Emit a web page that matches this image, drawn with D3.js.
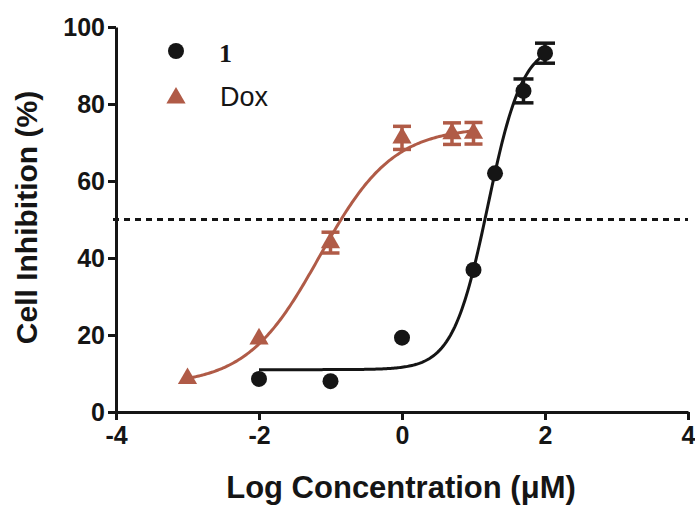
<!DOCTYPE html>
<html>
<head>
<meta charset="utf-8">
<script src="https://cdn.jsdelivr.net/npm/d3@7"></script>
<style>
  body { margin: 0; background: #fff; }
  svg { display: block; }
  .tick text { font-family: "Liberation Sans", Arial, sans-serif; font-weight: bold; }
</style>
</head>
<body>
<svg id="chart" width="695" height="506"></svg>
<script>
// compound 1 (log uM, % inhibition, SEM)
const cmpdX = [-2, -1, 0, 1, 1.301, 1.699, 2];
const cmpdY = [8.6, 8.0, 19.3, 36.9, 62.0, 83.4, 93.2];
const cmpdErr = [0, 0, 0, 0, 0, 3.1, 2.6];

// doxorubicin
const doxX = [-3, -2, -1, 0, 0.699, 1];
const doxY = [8.7, 19.0, 44.0, 71.2, 72.3, 72.4];
const doxErr = [0, 0, 2.7, 3.0, 2.8, 2.8];

// 4PL fit params: bottom, top, logIC50, hill, x range
const cmpdFit = [11, 96, 1.2, 1.78, -2, 2];
const doxFit = [7, 74, -1.15, 0.85, -3, 1];

const xTicks = [-4, -2, 0, 2, 4];
const yTicks = [0, 20, 40, 60, 80, 100];
const legendNames = ["1", "Dox"];

// Sets up sizes
let margin = {top: 27, left: 116, right: 7, bottom: 94},
    width = 695 - margin.left - margin.right,
    height = 506 - margin.top - margin.bottom;

let black = "#151515", brown = "#b05b47";

let svg = d3.select("#chart");
let g = svg.append("g")
    .attr("transform", "translate(" + margin.left + "," + margin.top + ")");

let x = d3.scaleLinear().domain([-4, 4]).range([0, width]);
let y = d3.scaleLinear().domain([0, 100]).range([height, 0]);

// axes
let xAxis = g.append("g")
    .attr("transform", "translate(0," + height + ")")
    .call(d3.axisBottom(x).tickValues(xTicks).tickSize(8).tickSizeOuter(0).tickPadding(6));
let yAxis = g.append("g")
    .call(d3.axisLeft(y).tickValues(yTicks).tickSize(8).tickSizeOuter(0).tickPadding(3));

[xAxis, yAxis].forEach(function(a) {
    a.selectAll("path, line").attr("stroke", black).attr("stroke-width", 3);
    a.selectAll("text").attr("fill", black).style("font-size", "25px");
});
xAxis.selectAll("text").text(function(d) { return d < 0 ? "-" + Math.abs(d) : d; });

// 50% dashed line
g.append("line")
    .attr("x1", x(-4) - 3).attr("x2", x(4))
    .attr("y1", y(50)).attr("y2", y(50))
    .attr("stroke", black)
    .attr("stroke-width", 2.8)
    .attr("stroke-dasharray", "6,5");

// fitted curves
function curvePoints(p) {
    let pts = [];
    for (let i = 0; i <= 200; i++) {
        let lx = p[4] + (p[5] - p[4]) * i / 200;
        pts.push([lx, p[0] + (p[1] - p[0]) / (1 + Math.pow(10, (p[2] - lx) * p[3]))]);
    }
    return pts;
}
let line = d3.line().x(function(d) { return x(d[0]); }).y(function(d) { return y(d[1]); });

g.append("path").datum(curvePoints(doxFit))
    .attr("d", line).attr("fill", "none")
    .attr("stroke", brown).attr("stroke-width", 3);
g.append("path").datum(curvePoints(cmpdFit))
    .attr("d", line).attr("fill", "none")
    .attr("stroke", black).attr("stroke-width", 3);

// error bars
function errorBars(xs, ys, es, color, capW) {
    xs.forEach(function(xv, i) {
        if (!es[i]) return;
        let eb = g.append("g").attr("stroke", color).attr("stroke-width", 3.5);
        eb.append("line").attr("x1", x(xv)).attr("x2", x(xv))
            .attr("y1", y(ys[i] - es[i])).attr("y2", y(ys[i] + es[i]));
        [ys[i] - es[i], ys[i] + es[i]].forEach(function(v) {
            eb.append("line").attr("x1", x(xv) - capW / 2).attr("x2", x(xv) + capW / 2)
                .attr("y1", y(v)).attr("y2", y(v));
        });
    });
}
errorBars(doxX, doxY, doxErr, brown, 18);
errorBars(cmpdX, cmpdY, cmpdErr, black, 20);

// markers
let tri = d3.symbol().type(d3.symbolTriangle).size(160);
g.selectAll(".dox").data(doxX).enter().append("path")
    .attr("class", "dox")
    .attr("d", tri)
    .attr("transform", function(d, i) { return "translate(" + x(d) + "," + y(doxY[i]) + ")"; })
    .attr("fill", brown);
g.selectAll(".cmpd").data(cmpdX).enter().append("circle")
    .attr("class", "cmpd")
    .attr("cx", function(d) { return x(d); })
    .attr("cy", function(d, i) { return y(cmpdY[i]); })
    .attr("r", 8)
    .attr("fill", black);

// legend
svg.append("circle").attr("cx", 176).attr("cy", 51).attr("r", 8).attr("fill", black);
svg.append("path").attr("d", tri)
    .attr("transform", "translate(176,98)").attr("fill", brown);
svg.append("text")
    .attr("x", 219).attr("y", 62)
    .style("font-family", "'Liberation Serif', 'Times New Roman', serif")
    .style("font-weight", "bold")
    .style("font-size", "26px")
    .attr("fill", black)
    .text(legendNames[0]);
svg.append("text")
    .attr("x", 220).attr("y", 106)
    .style("font-family", "'Liberation Sans', Arial, sans-serif")
    .style("font-size", "27px")
    .attr("fill", black)
    .text(legendNames[1]);

// axis titles
svg.append("text")
    .attr("x", 401).attr("y", 498)
    .attr("text-anchor", "middle")
    .style("font-family", "'Liberation Sans', Arial, sans-serif")
    .style("font-weight", "bold")
    .style("font-size", "31px")
    .attr("fill", black)
    .text("Log Concentration (\u03bcM)");
svg.append("text")
    .attr("transform", "translate(37," + (margin.top + y(50) - 2) + ") rotate(-90)")
    .attr("text-anchor", "middle")
    .style("font-family", "'Liberation Sans', Arial, sans-serif")
    .style("font-weight", "bold")
    .style("font-size", "30px")
    .attr("fill", black)
    .text("Cell Inhibition (%)");
</script>
</body>
</html>
